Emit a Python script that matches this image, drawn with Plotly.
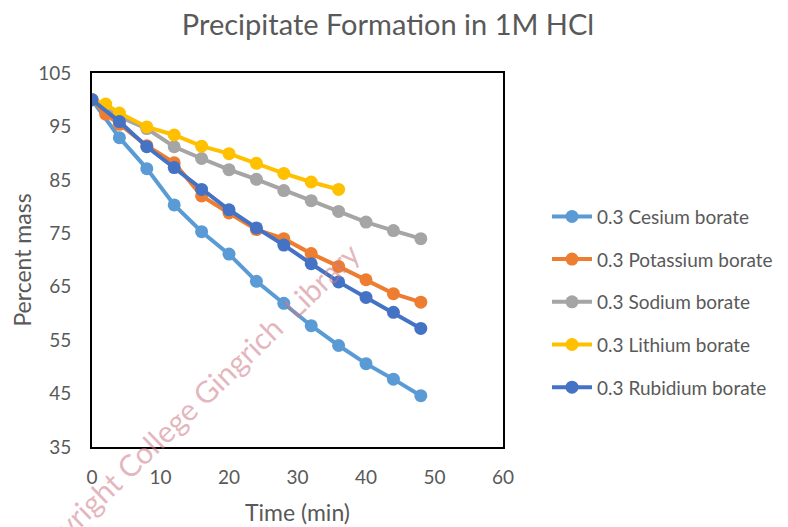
import plotly.graph_objects as go

# ---- data ----
time_main = [0, 4, 8, 12, 16, 20, 24, 28, 32, 36, 40, 44, 48]
time_potassium = [0, 2, 4, 8, 12, 16, 20, 24, 28, 32, 36, 40, 44, 48]
time_lithium = [0, 2, 4, 8, 12, 16, 20, 24, 28, 32, 36]

cesium = [100, 92.9, 87.1, 80.3, 75.3, 71.1, 66.0, 61.9, 57.7, 54.0, 50.6, 47.7, 44.6]
potassium = [100, 97.3, 95.4, 91.4, 88.2, 82.0, 78.8, 75.7, 74.0, 71.2, 68.8, 66.3, 63.7, 62.1]
sodium = [100, 96.8, 94.6, 91.2, 89.0, 86.9, 85.1, 83.0, 81.1, 79.1, 77.1, 75.5, 74.0]
lithium = [100, 99.2, 97.5, 94.9, 93.4, 91.3, 89.9, 88.1, 86.2, 84.6, 83.2]
rubidium = [100, 95.9, 91.2, 87.3, 83.2, 79.4, 76.0, 72.8, 69.3, 65.9, 63.0, 60.2, 57.2]

series = [
    ("0.3 Cesium borate", time_main, cesium, "#5B9BD5"),
    ("0.3 Potassium borate", time_potassium, potassium, "#ED7D31"),
    ("0.3 Sodium borate", time_main, sodium, "#A5A5A5"),
    ("0.3 Lithium borate", time_lithium, lithium, "#FFC000"),
    ("0.3 Rubidium borate", time_main, rubidium, "#4472C4"),
]

x_ticks = [0, 10, 20, 30, 40, 50, 60]
y_ticks = [35, 45, 55, 65, 75, 85, 95, 105]

FONT = "Lato"
GREY = "#595959"

fig = go.Figure()
for i, (name, xs, ys, col) in enumerate(series):
    fig.add_trace(go.Scatter(
        x=xs, y=ys, name=name, mode="lines+markers",
        line=dict(color=col, width=4),
        marker=dict(color=col, size=13),
        legendgroup=f"g{i}",
    ))

fig.update_layout(
    width=788, height=527,
    paper_bgcolor="white", plot_bgcolor="white",
    margin=dict(l=92, r=285, t=73, b=80, autoexpand=False),
    title=dict(text="Precipitate Formation in 1M HCl", x=388 / 788, xref="container",
               y=1 - 25 / 527, yref="container", yanchor="middle", xanchor="center",
               font=dict(family=FONT, size=29, color=GREY)),
    font=dict(family=FONT, size=18, color=GREY),
    showlegend=True,
    legend=dict(x=(547 - 92) / 411, xanchor="left", y=0.667, yanchor="top",
                font=dict(family=FONT, size=19, color=GREY),
                traceorder="grouped", tracegroupgap=15,
                bgcolor="rgba(0,0,0,0)", itemwidth=40),
    xaxis=dict(range=[0, 60], tickvals=x_ticks, showgrid=False, zeroline=False,
               showline=True, linecolor="black", linewidth=2, mirror=True,
               ticks="", ticklabelstandoff=12, automargin=False,
               tickfont=dict(family=FONT, size=19, color=GREY),
               title=dict(text="Time (min)", standoff=18,
                          font=dict(family=FONT, size=23, color=GREY))),
    yaxis=dict(range=[35, 105], tickvals=y_ticks, showgrid=False, zeroline=False,
               showline=True, linecolor="black", linewidth=2, mirror=True,
               ticks="", ticklabelstandoff=15, automargin=False,
               tickfont=dict(family=FONT, size=19, color=GREY),
               title=dict(text="Percent mass", standoff=0,
                          font=dict(family=FONT, size=23, color=GREY))),
)

fig.add_annotation(
    text="Copyright College Gingrich  Library",
    xref="paper", yref="paper", x=(188 - 92) / 411, y=(447 - 408) / 374,
    xanchor="center", yanchor="middle",
    showarrow=False, textangle=-44,
    font=dict(family=FONT, size=30, color="rgba(205,120,135,0.55)"),
)

fig.write_html("out.html")
